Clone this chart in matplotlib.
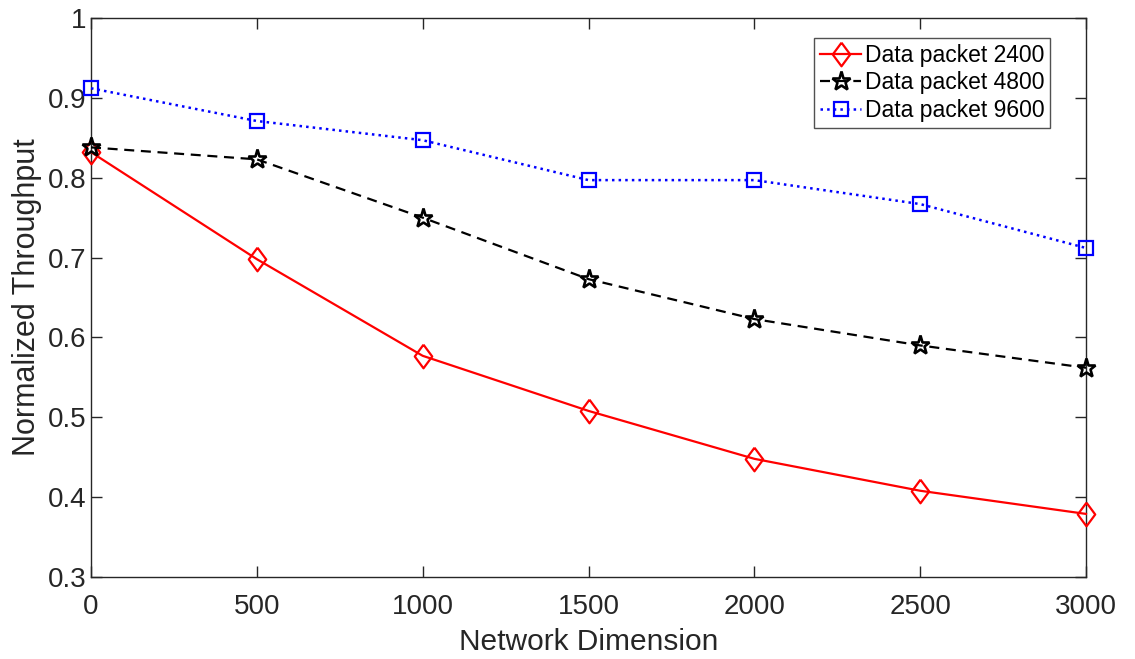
import matplotlib.pyplot as plt

plt.rcParams["font.family"] = ["Liberation Sans", "DejaVu Sans"]

# Network dimension values
dims = [0, 500, 1000, 1500, 2000, 2500, 3000]

# Normalized throughput per data packet size
packet_2400 = [0.832, 0.698, 0.577, 0.508, 0.448, 0.408, 0.379]
packet_4800 = [0.838, 0.823, 0.750, 0.673, 0.623, 0.590, 0.562]
packet_9600 = [0.912, 0.871, 0.847, 0.797, 0.797, 0.767, 0.712]

# MATLAB-like diamond (taller than wide)
diamond = [(0, 1), (0.74, 0), (0, -1), (-0.74, 0), (0, 1)]

fig = plt.figure(figsize=(11.35, 6.59), dpi=100)
ax = fig.add_axes([91 / 1135, 1 - 577 / 659, 995 / 1135, 559 / 659])

ax.plot(dims, packet_2400, color="red", linestyle="-", linewidth=1.6,
        marker=diamond, markersize=17, markerfacecolor="none", markeredgewidth=1.6,
        label="Data packet 2400", clip_on=False, zorder=3)
ax.plot(dims, packet_4800, color="black", linestyle="--", linewidth=1.6,
        dashes=(4.5, 3), marker="*", markersize=14, markerfacecolor="none",
        markeredgewidth=1.9, label="Data packet 4800", clip_on=False, zorder=3)
ax.plot(dims, packet_9600, color="blue", linestyle=":", linewidth=1.8,
        marker="s", markersize=10, markerfacecolor="none", markeredgewidth=1.6,
        label="Data packet 9600", clip_on=False, zorder=3)

ax.set_xlim(0, 3000)
ax.set_ylim(0.3, 1.0)
ax.set_xticks(dims)
ax.set_yticks([0.3, 0.4, 0.5, 0.6, 0.7, 0.8, 0.9, 1.0])
ax.set_yticklabels(["0.3", "0.4", "0.5", "0.6", "0.7", "0.8", "0.9", "1"])
ax.tick_params(direction="in", length=8, width=1, labelsize=20,
               top=True, right=True, colors="#262626")
ax.tick_params(axis="x", pad=12)
for s in ax.spines.values():
    s.set_color("#262626")
    s.set_linewidth(1)

ax.set_xlabel("Network Dimension", fontsize=21.5, color="#262626", labelpad=6)
ax.set_ylabel("Normalized Throughput", fontsize=22, color="#262626", labelpad=4)

leg = ax.legend(loc="upper right", bbox_to_anchor=(0.9638, 0.9642), fontsize=16.5,
                frameon=True, fancybox=False, edgecolor="#262626",
                handlelength=1.8, handletextpad=0.15, borderpad=0.25,
                labelspacing=0.2, borderaxespad=0)
leg.get_frame().set_linewidth(1)

fig.savefig("out.png", dpi=100)
